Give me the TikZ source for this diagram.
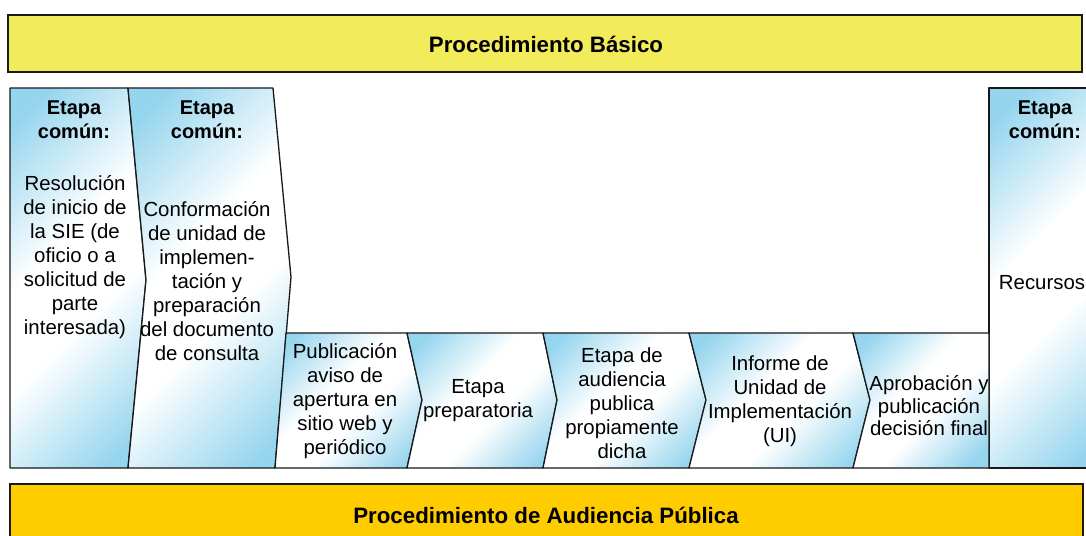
\documentclass[tikz,border=0pt]{standalone}
\usepackage{fontspec}
\setmainfont{Liberation Sans}
\definecolor{lblue}{RGB}{150,213,238}
\definecolor{ybox}{RGB}{242,235,90}
\definecolor{obox}{RGB}{255,204,0}
\definecolor{edge}{RGB}{25,25,25}
\pgfdeclareverticalshading{bwb}{100bp}{color(0bp)=(lblue); color(20bp)=(lblue); color(43bp)=(white); color(57bp)=(white); color(80bp)=(lblue); color(100bp)=(lblue)}
\tikzset{
  stage/.style={draw=edge, line width=1.3pt, line join=round, shade, shading=bwb, shading angle=45},
  banner/.style={draw=edge, line width=1.3pt},
  body/.style={align=center, inner sep=0pt, font=\fontsize{20.4}{24}\selectfont},
  head/.style={align=center, inner sep=0pt, font=\fontsize{20}{24}\selectfont\bfseries},
  title/.style={inner sep=0pt, font=\fontsize{22.3}{26}\selectfont\bfseries}
}
\begin{document}
\begin{tikzpicture}[x=1pt,y=-1pt]
\useasboundingbox (0,0) rectangle (1086,535);
\clip (0,0) rectangle (1086,535);
% banners
\draw[banner, fill=ybox] (8,15) rectangle (1082,72);
\node[title] (pb) at (546,44) {Procedimiento Básico};
\draw[banner, fill=obox] (10,484) rectangle (1083,560);
\node[title] (pa) at (546,515) {Procedimiento de Audiencia Pública};
% tall stages
\path[stage] (10,88) -- (128,88) -- (146,280) -- (128,468) -- (10,468) -- cycle;
\path[stage] (128,88) -- (273,88) -- (291,277) -- (275,468) -- (128,468) -- (146,280) -- cycle;
\path[stage] (989,88) -- (1110,88) -- (1110,468) -- (989,468) -- cycle;
% bottom row
\path[stage] (286,333) -- (407,333) -- (422,400) -- (407,468) -- (275,468) -- cycle;
\path[stage] (407,333) -- (543,333) -- (557,400) -- (543,468) -- (407,468) -- (422,400) -- cycle;
\path[stage] (543,333) -- (689,333) -- (706,400) -- (689,468) -- (543,468) -- (557,400) -- cycle;
\path[stage] (689,333) -- (853,333) -- (870,400) -- (853,468) -- (689,468) -- (706,400) -- cycle;
\path[stage] (853,333) -- (989,333) -- (989,468) -- (853,468) -- (870,400) -- cycle;
% texts
\node[head] (h1) at (74,120) {Etapa\\común:};
\node[body] (t1) at (75,257) {Resolución\\de inicio de\\la SIE (de\\oficio o a\\solicitud de\\parte\\interesada)};
\node[head] (h2) at (207,120) {Etapa\\común:};
\node[body] (t2) at (207,281) {Conformación\\de unidad de\\implemen-\\tación y\\preparación\\del documento\\de consulta};
\node[body] (t3) at (345,401) {Publicación\\aviso de\\apertura en\\sitio web y\\periódico};
\node[body] (t4) at (478,401) {Etapa\\preparatoria};
\node[body] (t5) at (622,403) {Etapa de\\audiencia\\publica\\propiamente\\dicha};
\node[body] (t6) at (780,401) {Informe de\\Unidad de\\Implementación\\(UI)};
\node[body, font=\fontsize{20.4}{22.5}\selectfont] (t7) at (929,406) {Aprobación y\\publicación\\decisión final};
\node[head] (h8) at (1045,120) {Etapa\\común:};
\node[body] (t8) at (1042,283) {Recursos};
\end{tikzpicture}
\end{document}
